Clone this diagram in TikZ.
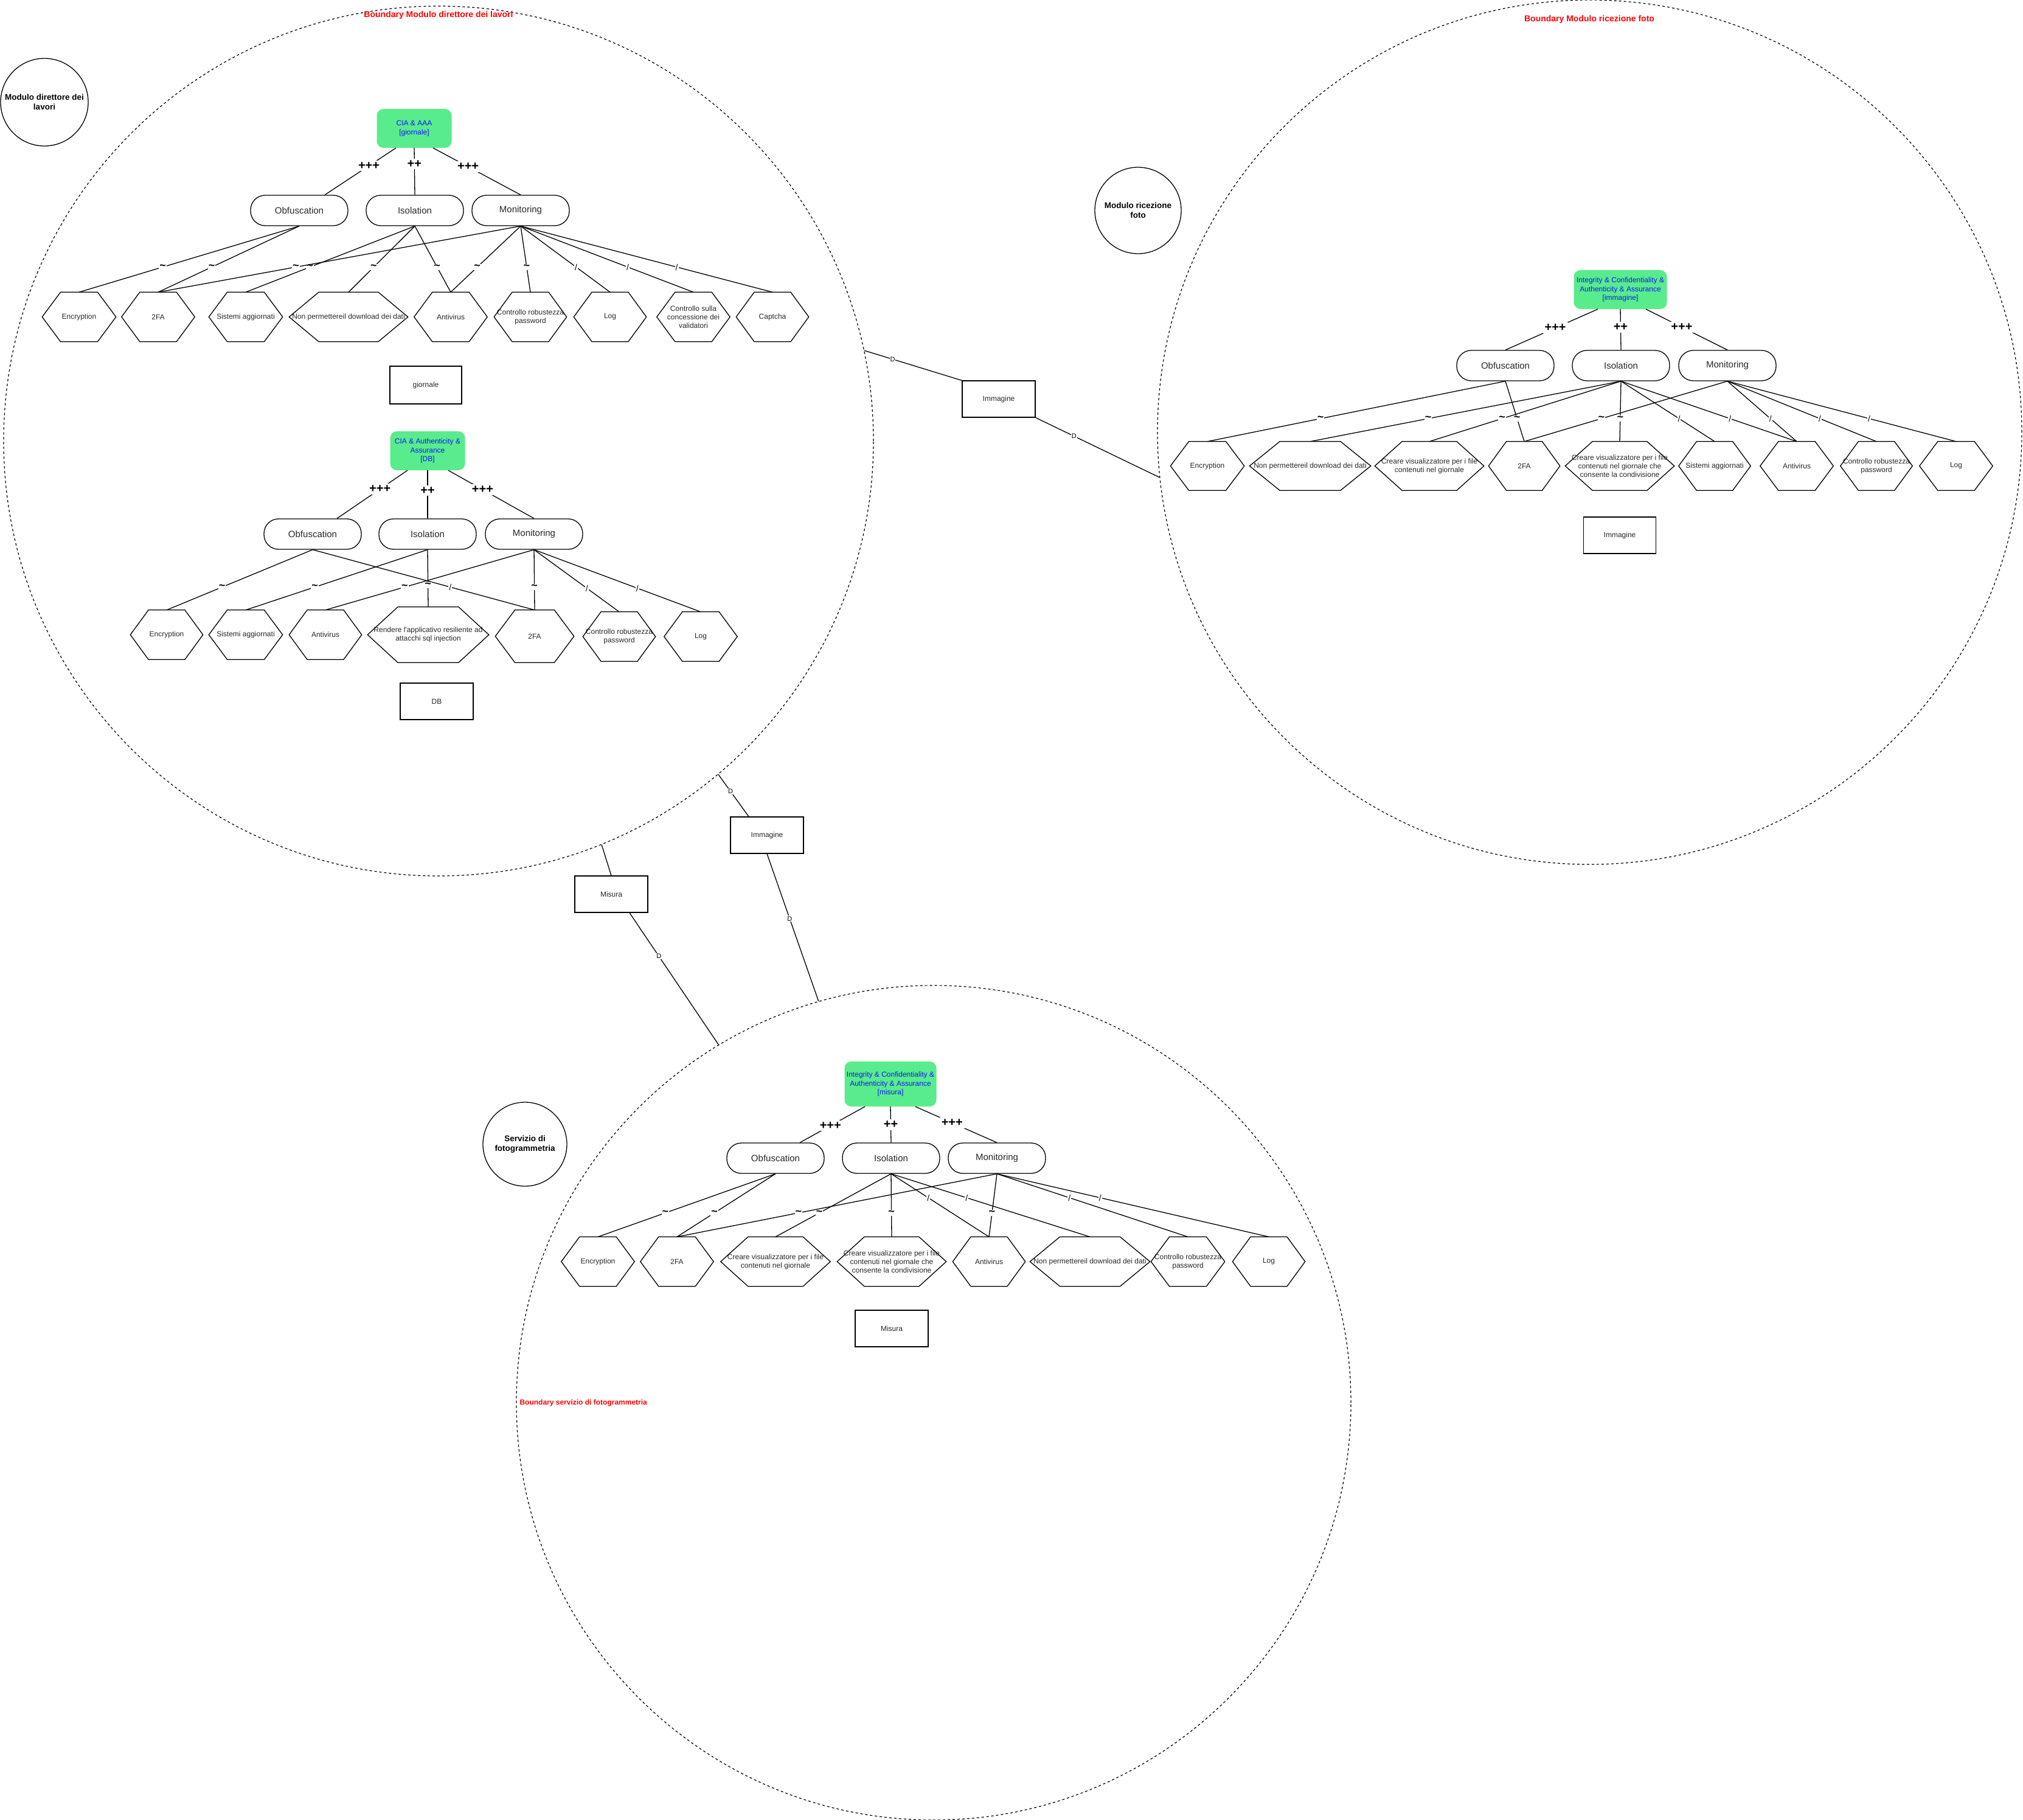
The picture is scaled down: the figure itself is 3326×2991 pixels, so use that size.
\documentclass[tikz,border=0pt]{standalone}
\usepackage{fontspec}
\setmainfont{Liberation Sans}
\usetikzlibrary{calc}
\definecolor{goalgreen}{RGB}{88,236,140}
\definecolor{goalblue}{RGB}{20,20,255}
\definecolor{txt}{RGB}{40,40,40}
\newcommand{\hexa}[6]{%
  \node[hexbox, minimum width=#4pt, minimum height=#5pt] (#1) at (#2,#3) {#6};
  \draw[hexline] ([xshift=0.25*#4pt]#1.north west) -- ([xshift=-0.25*#4pt]#1.north east) -- (#1.east) -- ([xshift=-0.25*#4pt]#1.south east) -- ([xshift=0.25*#4pt]#1.south west) -- (#1.west) -- cycle;
}
\tikzset{
  bound/.style={circle, draw, dash pattern=on 4pt off 4pt, line width=1.2pt, inner sep=0pt},
  modc/.style={circle, draw, line width=1.3pt, inner sep=0pt, align=center, font=\fontsize{13.5}{16}\selectfont\bfseries},
  goal/.style={rectangle, rounded corners=11pt, fill=goalgreen, text=goalblue, align=center, font=\fontsize{12}{14.3}\selectfont, inner sep=0pt},
  strat/.style={rectangle, rounded corners=24pt, draw, line width=1.3pt, minimum width=160pt, minimum height=50pt, inner sep=0pt, font=\fontsize{15}{18}\selectfont, text=txt},
  hexbox/.style={inner sep=0pt, align=center, font=\fontsize{12}{14}\selectfont, text=txt},
  hexline/.style={line width=1.3pt},
  asset/.style={rectangle, draw, line width=1.1pt, minimum width=120pt, minimum height=60pt, inner sep=0pt, font=\fontsize{12}{14}\selectfont, text=txt},
  link/.style={line width=1.3pt},
  plab/.style={font=\fontsize{20}{20}\selectfont\bfseries, fill=white, inner sep=3pt},
  tlab/.style={font=\fontsize{18}{18}\selectfont\bfseries, fill=white, inner sep=1pt, pos=0.62},
  slab/.style={font=\fontsize{14}{14}\selectfont, fill=white, inner sep=1pt, pos=0.62},
  dlab/.style={font=\fontsize{11}{11}\selectfont, fill=white, inner sep=1pt},
  btitle/.style={text=red, font=\fontsize{14}{16}\selectfont\bfseries},
}
\begin{document}
\begin{tikzpicture}[x=1pt, y=-1pt]
\useasboundingbox (0,0) rectangle (3326,2991);
\fill[white] (0,0) rectangle (3326,2991);

% boundaries
\node[bound, minimum size=1430pt] (b1) at (721,725) {};
\node[bound, minimum size=1421pt] (b2) at (2613.5,710.5) {};
\node[bound, minimum size=1372pt] (b3) at (1535,2306) {};
\node[btitle] (t1) at (721,25) {Boundary Modulo direttore dei lavori};
\node[btitle] (t2) at (2613,32) {Boundary Modulo ricezione foto};
\node[btitle, anchor=west, font=\fontsize{12}{14}\selectfont\bfseries] (t3) at (851,2306) {Boundary servizio di fotogrammetria};

% module circles
\node[modc, minimum size=144pt] (m1) at (73,168) {Modulo direttore dei\\lavori};
\node[modc, minimum size=142pt] (m2) at (1871,346) {Modulo ricezione\\foto};
\node[modc, minimum size=138pt] (m3) at (863,1881) {Servizio di\\fotogrammetria};

% ================= tree giornale =================
\node[goal, minimum width=123pt, minimum height=64pt] (g1) at (681,211) {CIA \& AAA\\{[giornale]}};
\node[strat] (o1) at (492,346) {Obfuscation};
\node[strat] (i1) at (682,346) {Isolation};
\node[strat] (mo1) at (856,346) {Monitoring};
\draw[link] ([xshift=-30pt]g1.south) -- node[plab, pos=0.38]{+++} ([xshift=42pt]o1.north);
\draw[link] (g1.south) -- node[plab, pos=0.34]{++} (i1.north);
\draw[link] ([xshift=31pt]g1.south) -- node[plab, pos=0.4]{+++} (mo1.north);
\hexa{h1e}{130}{521}{121}{81}{Encryption}
\hexa{h1f}{260}{521}{120}{81}{2FA}
\hexa{h1s}{404}{521}{121}{81}{Sistemi aggiornati}
\hexa{h1n}{573}{521}{195}{81}{Non permettereil download dei dati}
\hexa{h1a}{741}{521}{120}{81}{Antivirus}
\hexa{h1c}{872}{521}{119}{81}{Controllo robustezza\\password}
\hexa{h1l}{1003}{521}{119}{81}{Log}
\hexa{h1v}{1140}{521}{120}{81}{Controllo sulla\\concessione dei\\validatori}
\hexa{h1p}{1270}{521}{119}{81}{Captcha}
\node[asset, minimum width=118pt, minimum height=62pt] (a1) at (700,633) {giornale};
\draw[link] (o1.south) -- node[tlab]{\textasciitilde} (h1e.north);
\draw[link] (o1.south) -- node[tlab]{\textasciitilde} (h1f.north);
\draw[link] (i1.south) -- node[tlab]{\textasciitilde} (h1s.north);
\draw[link] (i1.south) -- node[tlab]{\textasciitilde} (h1n.north);
\draw[link] (i1.south) -- node[tlab]{\textasciitilde} (h1a.north);
\draw[link] (mo1.south) -- node[tlab]{\textasciitilde} (h1f.north);
\draw[link] (mo1.south) -- node[tlab]{\textasciitilde} (h1a.north);
\draw[link] (mo1.south) -- node[tlab]{\textasciitilde} (h1c.north);
\draw[link] (mo1.south) -- node[slab]{/} (h1l.north);
\draw[link] (mo1.south) -- node[slab]{/} (h1v.north);
\draw[link] (mo1.south) -- node[slab]{/} (h1p.north);

% ================= tree DB =================
\node[goal, minimum width=123pt, minimum height=64pt] (gd) at (703,741) {CIA \& Authenticity \&\\Assurance\\{[DB]}};
\node[strat] (od) at (514,878) {Obfuscation};
\node[strat] (id) at (703,878) {Isolation};
\node[strat] (md) at (878,878) {Monitoring};
\draw[link] ([xshift=-33pt]gd.south) -- node[plab, pos=0.39]{+++} ([xshift=40pt]od.north);
\draw[link] (gd.south) -- node[plab, pos=0.42]{++} (id.north);
\draw[link] ([xshift=34pt]gd.south) -- node[plab, pos=0.4]{+++} (md.north);
\hexa{hde}{274}{1043.5}{119}{81}{Encryption}
\hexa{hds}{404}{1043.5}{121}{81}{Sistemi aggiornati}
\hexa{hda}{535}{1043.5}{119}{81}{Antivirus}
\hexa{hdr}{704}{1043.5}{199}{91}{Rendere l\textquotesingle applicativo resiliente ad\\attacchi sql injection}
\hexa{hdf}{879}{1046}{129}{86}{2FA}
\hexa{hdc}{1018}{1046.5}{119}{81}{Controllo robustezza\\password}
\hexa{hdl}{1152}{1046.5}{120}{81}{Log}
\node[asset] (ad) at (718,1153) {DB};
\draw[link] (od.south) -- node[tlab]{\textasciitilde} (hde.north);
\draw[link] (od.south) -- node[slab]{/} (hdf.north);
\draw[link] (id.south) -- node[tlab]{\textasciitilde} (hds.north);
\draw[link] (id.south) -- node[tlab]{\textasciitilde} (hdr.north);
\draw[link] (md.south) -- node[tlab]{\textasciitilde} (hda.north);
\draw[link] (md.south) -- node[tlab]{\textasciitilde} (hdf.north);
\draw[link] (md.south) -- node[slab]{/} (hdc.north);
\draw[link] (md.south) -- node[slab]{/} (hdl.north);

% ================= tree immagine =================
\node[goal, minimum width=153pt, minimum height=64pt] (g2) at (2664,476) {Integrity \& Confidentiality \&\\Authenticity \& Assurance\\{[immagine]}};
\node[strat] (o2) at (2475,601) {Obfuscation};
\node[strat] (i2) at (2665,601) {Isolation};
\node[strat] (ms2) at (2840,601) {Monitoring};
\draw[link] ([xshift=-37pt]g2.south) -- node[plab, pos=0.46]{+++} (o2.north);
\draw[link] (g2.south) -- node[plab, pos=0.44]{++} (i2.north);
\draw[link] ([xshift=42pt]g2.south) -- node[plab, pos=0.44]{+++} (ms2.north);
\hexa{h2e}{1985}{766}{121}{80}{Encryption}
\hexa{h2n}{2154}{766}{199}{80}{Non permettereil download dei dati}
\hexa{h2g}{2350}{766}{179}{80}{Creare visualizzatore per i file\\contenuti nel giornale}
\hexa{h2f}{2506}{766}{117}{80}{2FA}
\hexa{h2c}{2663}{766}{179}{80}{Creare visualizzatore per i file\\contenuti nel giornale che\\consente la condivisione}
\hexa{h2s}{2819}{766}{118}{80}{Sistemi aggiornati}
\hexa{h2a}{2954}{766}{120}{80}{Antivirus}
\hexa{h2r}{3085}{766}{118}{80}{Controllo robustezza\\password}
\hexa{h2l}{3216}{766}{120}{80}{Log}
\node[asset, minimum width=119pt] (a2) at (2663,880) {Immagine};
\draw[link] (o2.south) -- node[tlab]{\textasciitilde} (h2e.north);
\draw[link] (o2.south) -- node[tlab]{\textasciitilde} (h2f.north);
\draw[link] (i2.south) -- node[tlab]{\textasciitilde} (h2n.north);
\draw[link] (i2.south) -- node[tlab]{\textasciitilde} (h2g.north);
\draw[link] (i2.south) -- node[tlab]{\textasciitilde} (h2c.north);
\draw[link] (i2.south) -- node[slab]{/} (h2s.north);
\draw[link] (i2.south) -- node[slab]{/} (h2a.north);
\draw[link] (ms2.south) -- node[tlab]{\textasciitilde} (h2f.north);
\draw[link] (ms2.south) -- node[slab]{/} (h2a.north);
\draw[link] (ms2.south) -- node[slab]{/} (h2r.north);
\draw[link] (ms2.south) -- node[slab]{/} (h2l.north);

% ================= tree misura =================
\node[goal, minimum width=151pt, minimum height=74pt] (g3) at (1464,1782) {Integrity \& Confidentiality \&\\Authenticity \& Assurance\\{[misura]}};
\node[strat] (o3) at (1275,1904) {Obfuscation};
\node[strat] (i3) at (1465,1904) {Isolation};
\node[strat] (ms3) at (1639,1904) {Monitoring};
\draw[link] ([xshift=-42pt]g3.south) -- node[plab, pos=0.53]{+++} ([xshift=40pt]o3.north);
\draw[link] (g3.south) -- node[plab, pos=0.5]{++} (i3.north);
\draw[link] ([xshift=41pt]g3.south) -- node[plab, pos=0.45]{+++} (ms3.north);
\hexa{h3e}{983}{2074}{120}{81}{Encryption}
\hexa{h3f}{1113}{2074}{120}{81}{2FA}
\hexa{h3g}{1275}{2074}{180}{81}{Creare visualizzatore per i file\\contenuti nel giornale}
\hexa{h3c}{1466}{2074}{179}{81}{Creare visualizzatore per i file\\contenuti nel giornale che\\consente la condivisione}
\hexa{h3a}{1626}{2074}{119}{81}{Antivirus}
\hexa{h3n}{1792}{2074}{197}{81}{Non permettereil download dei dati}
\hexa{h3r}{1953}{2074}{121}{81}{Controllo robustezza\\password}
\hexa{h3l}{2086}{2074}{119}{81}{Log}
\node[asset] (a3) at (1466,2184) {Misura};
\draw[link] (o3.south) -- node[tlab]{\textasciitilde} (h3e.north);
\draw[link] (o3.south) -- node[tlab]{\textasciitilde} (h3f.north);
\draw[link] (i3.south) -- node[tlab]{\textasciitilde} (h3g.north);
\draw[link] (i3.south) -- node[tlab]{\textasciitilde} (h3c.north);
\draw[link] (i3.south) -- node[slab, pos=0.38]{/} (h3a.north);
\draw[link] (i3.south) -- node[slab, pos=0.38]{/} (h3n.north);
\draw[link] (ms3.south) -- node[tlab]{\textasciitilde} (h3f.north);
\draw[link] (ms3.south) -- node[tlab]{\textasciitilde} (h3a.north);
\draw[link] (ms3.south) -- node[slab, pos=0.38]{/} (h3r.north);
\draw[link] (ms3.south) -- node[slab, pos=0.38]{/} (h3l.north);

% ================= data flows between modules =================
\node[asset] (im1) at (1642,656) {Immagine};
\node[asset] (im2) at (1261,1373) {Immagine};
\node[asset] (ms1) at (1005,1470) {Misura};
\draw[link] (b1.12.75) -- node[dlab, pos=0.29]{D} (im1.north west);
\draw[link] (im1.south east) -- node[dlab, pos=0.31]{D} (b2.186.65);
\draw[link] (b1.-50.5) -- node[dlab, pos=0.4]{D} ([xshift=-30pt]im2.north);
\draw[link] (im2.south) -- node[dlab, pos=0.44]{D} (b3.106.8);
\draw[link] (b1.-68.4) -- (ms1.north);
\draw[link] ([xshift=30pt]ms1.south) -- node[dlab, pos=0.33]{D} (b3.121.4);
\end{tikzpicture}
\end{document}
